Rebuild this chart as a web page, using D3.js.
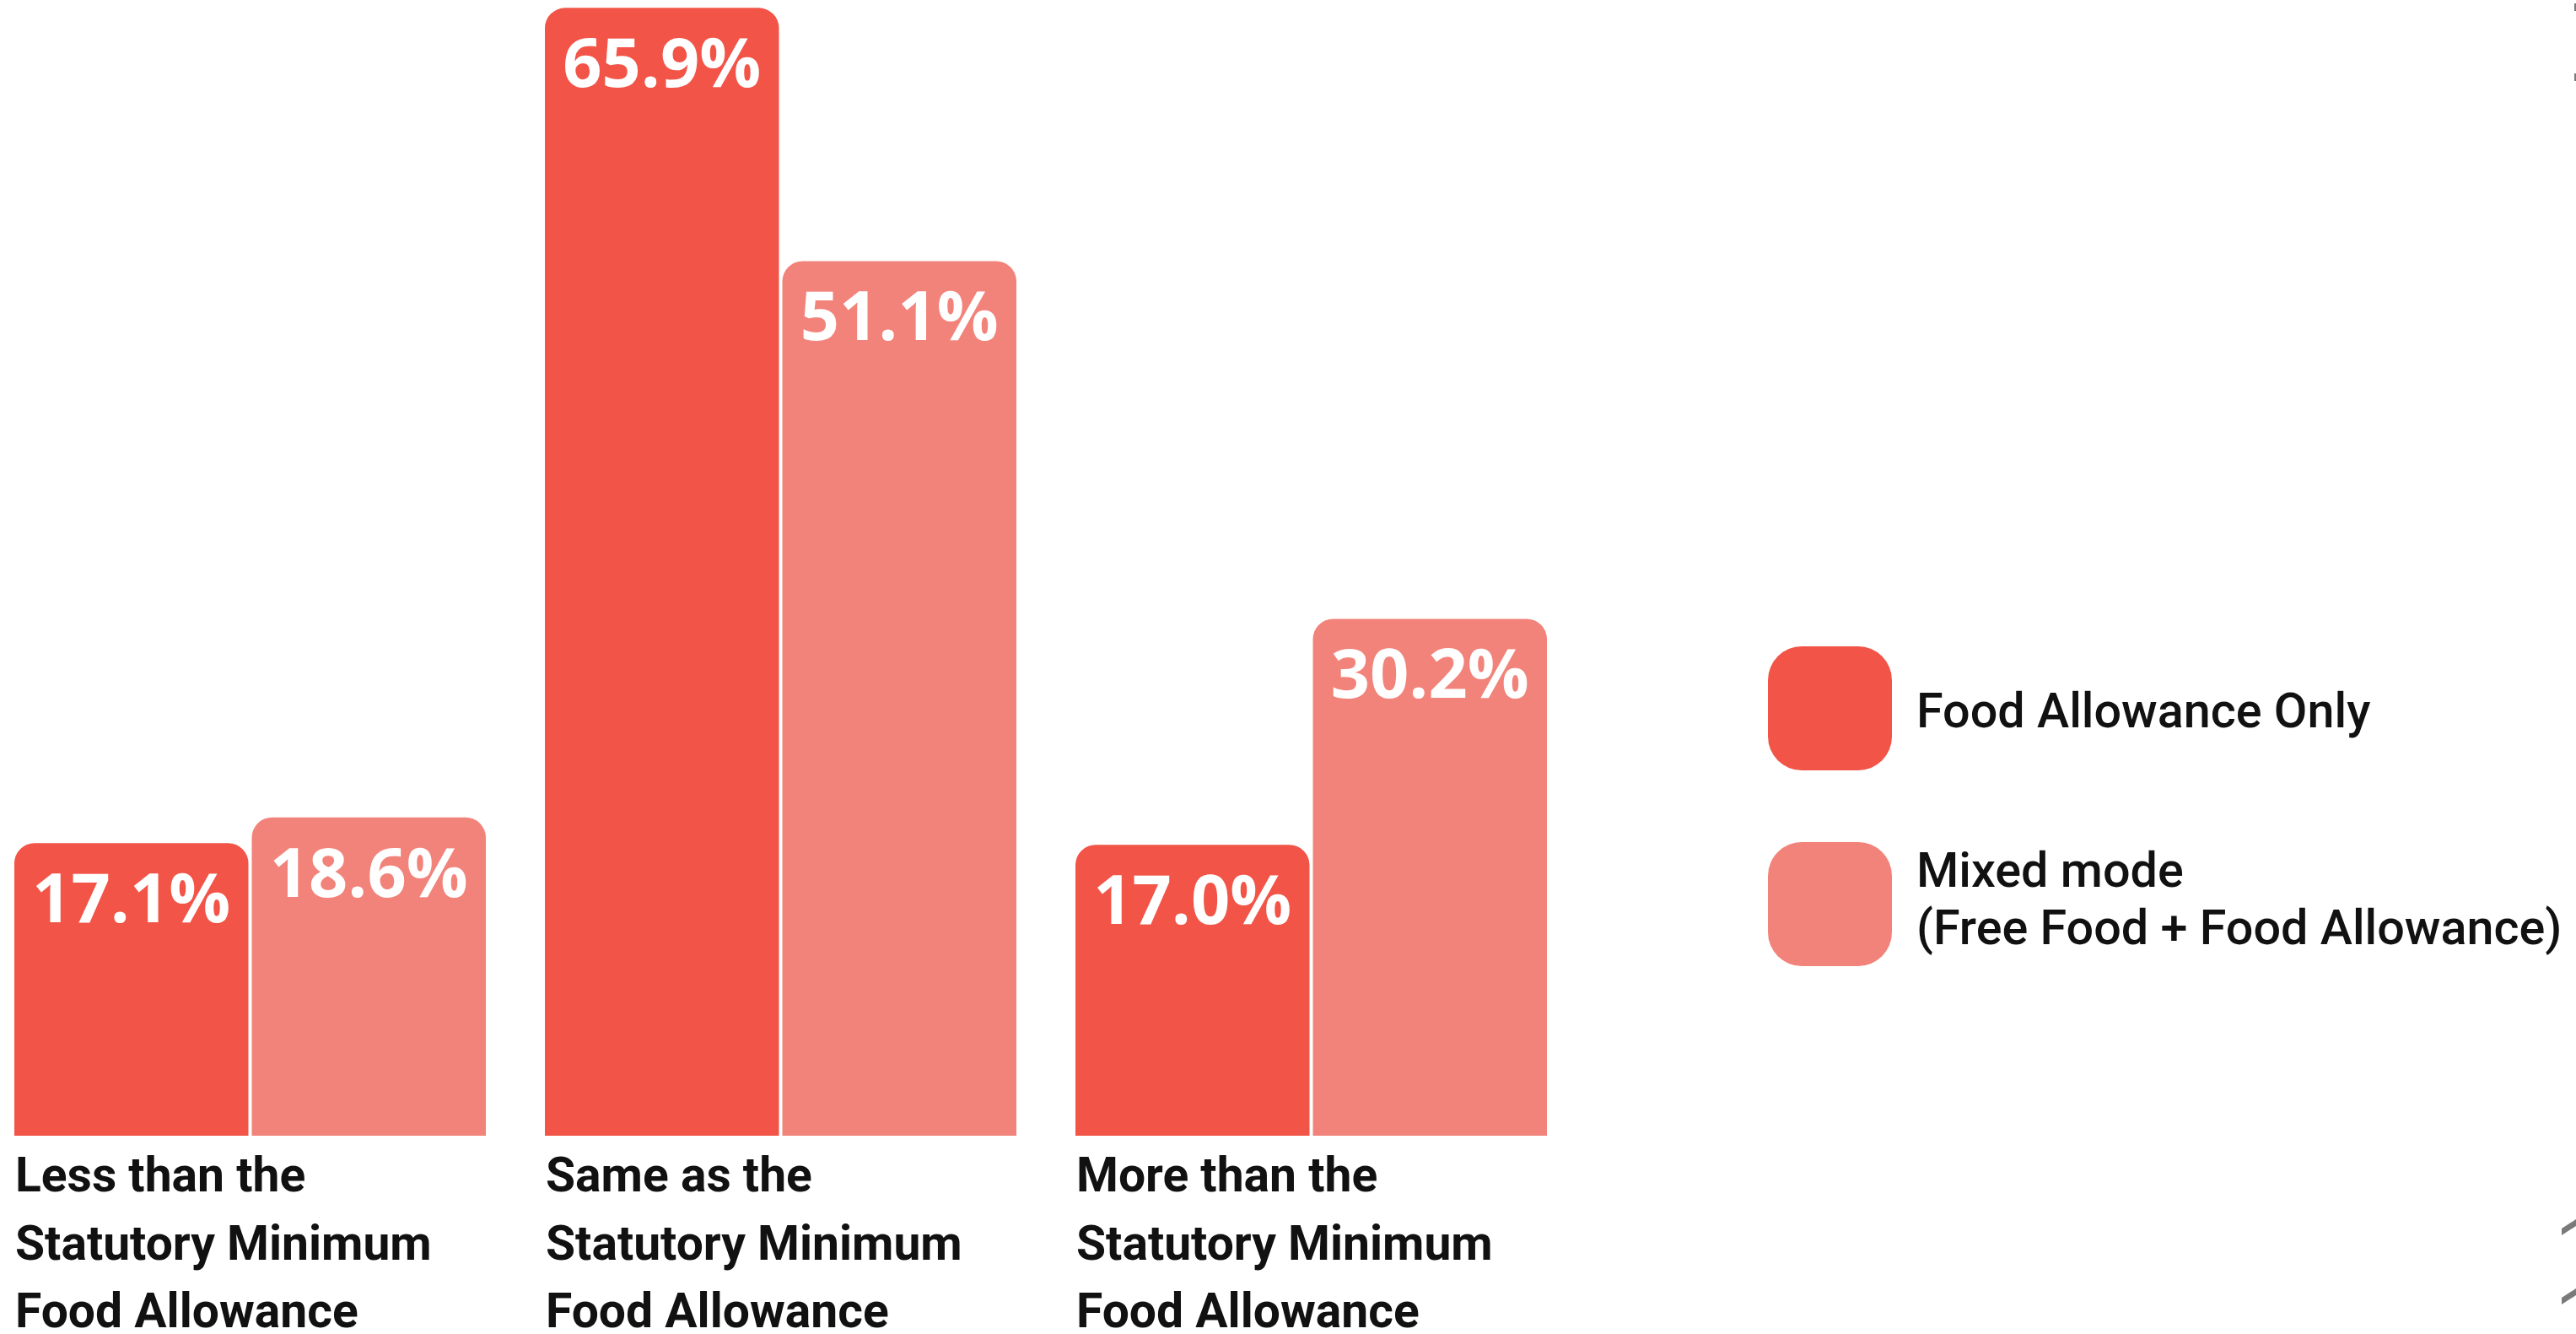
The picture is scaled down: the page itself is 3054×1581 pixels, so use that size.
<!DOCTYPE html>
<html>
<head>
<meta charset="utf-8">
<script src="https://cdn.jsdelivr.net/npm/d3@7"></script>
<style>
  html, body { margin: 0; padding: 0; background: #ffffff; overflow: hidden; }
  svg { display: block; }
</style>
</head>
<body>
<script>
// ---- Data ----
const categories = [
  ["Less than the", "Statutory Minimum", "Food Allowance"],
  ["Same as the", "Statutory Minimum", "Food Allowance"],
  ["More than the", "Statutory Minimum", "Food Allowance"]
];
const categoryKeys = ["less", "same", "more"];
const seriesNames = ["Food Allowance Only", "Mixed mode"];
const legendLabels = [["Food Allowance Only"], ["Mixed mode", "(Free Food + Food Allowance)"]];
const foodAllowanceOnly = [17.1, 65.9, 17.0];
const mixedMode = [18.6, 51.1, 30.2];
const seriesColors = ["#F25447", "#F2837A"];

const W = 3054, H = 1581;
const svg = d3.select("body").append("svg").attr("width", W).attr("height", H);

const x0 = d3.scaleBand().domain(categoryKeys).range([17, 1834]).paddingInner(70 / 629).paddingOuter(0);
const x1 = d3.scaleBand().domain(seriesNames).range([0, x0.bandwidth()]).paddingInner(4 / 281).paddingOuter(0);
const y = d3.scaleLinear().domain([0, 65.9]).range([1346, 9.3]);
const color = d3.scaleOrdinal().domain(seriesNames).range(seriesColors);

const rows = categoryKeys.map((k, i) => ({
  key: k,
  values: [
    { series: seriesNames[0], value: foodAllowanceOnly[i] },
    { series: seriesNames[1], value: mixedMode[i] }
  ]
}));

function topRounded(x, yTop, w, h, r) {
  r = Math.min(r, w / 2, h);
  const p = d3.path();
  p.moveTo(x, yTop + h);
  p.lineTo(x, yTop + r);
  p.arcTo(x, yTop, x + r, yTop, r);
  p.lineTo(x + w - r, yTop);
  p.arcTo(x + w, yTop, x + w, yTop + r, r);
  p.lineTo(x + w, yTop + h);
  p.closePath();
  return p.toString();
}

const groups = svg.append("g").selectAll("g").data(rows).join("g")
  .attr("transform", d => `translate(${x0(d.key)},0)`);

groups.selectAll("path").data(d => d.values).join("path")
  .attr("d", d => topRounded(x1(d.series), y(d.value), x1.bandwidth(), y(0) - y(d.value), 24))
  .attr("fill", d => color(d.series));

groups.selectAll("text.val").data(d => d.values).join("text")
  .attr("class", "val")
  .attr("x", d => x1(d.series) + x1.bandwidth() / 2)
  .attr("y", d => y(d.value) + 94)
  .attr("text-anchor", "middle")
  .attr("fill", "#ffffff")
  .attr("font-family", "'Open Sans', 'Noto Sans', sans-serif")
  .attr("font-weight", 700)
  .attr("font-size", 81)
  .text(d => d.value.toFixed(1) + "%");

// Category labels (x-axis)
const catLabels = svg.append("g").selectAll("text").data(categoryKeys).join("text")
  .attr("x", d => x0(d) + 1)
  .attr("y", 1412)
  .attr("fill", "#111111")
  .attr("font-family", "Roboto, 'Noto Sans', sans-serif")
  .attr("font-weight", 700)
  .attr("font-size", 57);
catLabels.selectAll("tspan").data((d, i) => categories[i]).join("tspan")
  .attr("x", function () { return d3.select(this.parentNode).attr("x"); })
  .attr("dy", (d, i) => i === 0 ? 0 : 80.5)
  .text(d => d);

// Legend
const legendY = d3.scaleOrdinal().domain(seriesNames).range([766, 998]);
const legend = svg.append("g").selectAll("g").data(seriesNames).join("g")
  .attr("transform", d => `translate(2096,${legendY(d)})`);
legend.append("rect")
  .attr("width", 147).attr("height", 147).attr("rx", 40).attr("ry", 40)
  .attr("fill", d => color(d));
legend.append("text")
  .attr("x", 176)
  .attr("y", (d, i) => i === 0 ? 96 : 53)
  .attr("fill", "#111111")
  .attr("font-family", "Roboto, 'Noto Sans', sans-serif")
  .attr("font-weight", 500)
  .attr("font-size", 57.5)
  .selectAll("tspan").data((d, i) => legendLabels[i]).join("tspan")
  .attr("x", 176)
  .attr("dy", (d, i) => i === 0 ? 0 : 68)
  .text(d => d);

// Cropped decorative slivers at the right edge
const deco = svg.append("g").attr("fill", "#7a7a7a");
[[4, 13], [87, 96]].forEach(([a, b]) => {
  deco.append("rect").attr("x", 3052).attr("y", a).attr("width", 2).attr("height", b - a);
});
[1445, 1527].forEach(t => {
  const p = d3.path();
  p.moveTo(3037, t + 11); p.lineTo(3054, t); p.lineTo(3054, t + 8); p.lineTo(3037, t + 19); p.closePath();
  deco.append("path").attr("d", p.toString());
});
</script>
</body>
</html>
